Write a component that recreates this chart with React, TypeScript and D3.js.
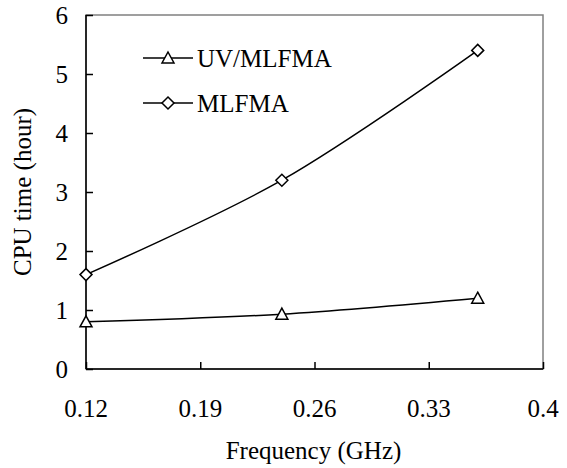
import React, { useRef, useEffect } from 'react';
import * as d3 from 'd3';

const frequencies = [0.12, 0.24, 0.36];
const uvMlfma = [0.8, 0.93, 1.2];
const mlfma = [1.6, 3.2, 5.4];
const xTicks = [0.12, 0.19, 0.26, 0.33, 0.4];
const yTicks = [0, 1, 2, 3, 4, 5, 6];
const seriesNames = ['UV/MLFMA', 'MLFMA'];

const W = 567;
const H = 468;
const FONT = '"Liberation Serif", "Times New Roman", serif';
const FS = '25px';

export default function App() {
  const svgRef = useRef<SVGSVGElement>(null);

  useEffect(() => {
    const svg = d3.select(svgRef.current);
    svg.selectAll('*').remove();

    const left = 86, right = 543, top = 15, bottom = 369;
    const x = d3.scaleLinear().domain([0.12, 0.4]).range([left, right]);
    const y = d3.scaleLinear().domain([0, 6]).range([bottom, top]);

    // plot frame
    svg.append('rect')
      .attr('x', left).attr('y', top)
      .attr('width', right - left).attr('height', bottom - top)
      .attr('fill', 'none').attr('stroke', '#808080').attr('stroke-width', 1.5);

    // Y axis (ticks pointing inward)
    const yAxis = svg.append('g')
      .attr('transform', `translate(${left},0)`)
      .call(d3.axisRight(y).tickValues(yTicks).tickSize(7).tickFormat(() => ''));
    yAxis.selectAll('path,line').attr('stroke', '#000').attr('stroke-width', 1.5);
    yAxis.select('.domain').attr('d', `M0,${bottom}V${top}`);

    // X axis (ticks pointing inward)
    const xAxis = svg.append('g')
      .attr('transform', `translate(0,${bottom})`)
      .call(d3.axisTop(x).tickValues(xTicks).tickSize(7).tickFormat(() => ''));
    xAxis.selectAll('path,line').attr('stroke', '#000').attr('stroke-width', 1.5);
    xAxis.select('.domain').attr('d', `M${left},0H${right}`);

    // tick labels
    svg.append('g').selectAll('text')
      .data(yTicks).enter().append('text')
      .attr('x', 68).attr('y', d => y(d)).attr('dy', '0.35em')
      .attr('text-anchor', 'end')
      .style('font-family', FONT).style('font-size', FS)
      .text(d => d);

    svg.append('g').selectAll('text')
      .data(xTicks).enter().append('text')
      .attr('x', d => x(d)).attr('y', 417)
      .attr('text-anchor', 'middle')
      .style('font-family', FONT).style('font-size', FS)
      .text(d => d);

    // axis titles
    svg.append('text')
      .attr('x', (left + right) / 2 - 1).attr('y', 459)
      .attr('text-anchor', 'middle')
      .style('font-family', FONT).style('font-size', FS)
      .text('Frequency (GHz)');

    svg.append('text')
      .attr('transform', `translate(31,${(top + bottom) / 2}) rotate(-90)`)
      .attr('text-anchor', 'middle')
      .style('font-family', FONT).style('font-size', FS)
      .text('CPU time (hour)');

    const line = d3.line<number>()
      .x((_, i) => x(frequencies[i]))
      .y(d => y(d))
      .curve(d3.curveCatmullRom.alpha(0.5));

    const triangle = (cx: number, cy: number) =>
      `M${cx},${cy - 6}L${cx + 6},${cy + 5}L${cx - 6},${cy + 5}Z`;
    const diamond = (cx: number, cy: number) =>
      `M${cx},${cy - 6}L${cx + 6},${cy}L${cx},${cy + 6}L${cx - 6},${cy}Z`;

    const series = [
      { name: seriesNames[0], values: uvMlfma, marker: triangle },
      { name: seriesNames[1], values: mlfma, marker: diamond },
    ];

    series.forEach(s => {
      svg.append('path')
        .attr('d', line(s.values))
        .attr('fill', 'none').attr('stroke', '#000').attr('stroke-width', 1.5);
      svg.append('g').selectAll('path')
        .data(s.values).enter().append('path')
        .attr('d', (d, i) => s.marker(x(frequencies[i]), y(d)))
        .attr('fill', '#fff').attr('stroke', '#000').attr('stroke-width', 1.5);
    });

    // legend
    const legend = svg.append('g');
    series.forEach((s, i) => {
      const ly = 58 + i * 45;
      legend.append('line')
        .attr('x1', 143).attr('x2', 193).attr('y1', ly).attr('y2', ly)
        .attr('stroke', '#000').attr('stroke-width', 1.5);
      legend.append('path')
        .attr('d', s.marker(168, ly))
        .attr('fill', '#fff').attr('stroke', '#000').attr('stroke-width', 1.5);
      legend.append('text')
        .attr('x', 197).attr('y', ly).attr('dy', '0.35em')
        .style('font-family', FONT).style('font-size', FS)
        .text(s.name);
    });
  }, []);

  return (
    <svg
      ref={svgRef}
      width={W}
      height={H}
      style={{ position: 'absolute', left: 0, top: 0, background: '#fff', display: 'block' }}
    />
  );
}
